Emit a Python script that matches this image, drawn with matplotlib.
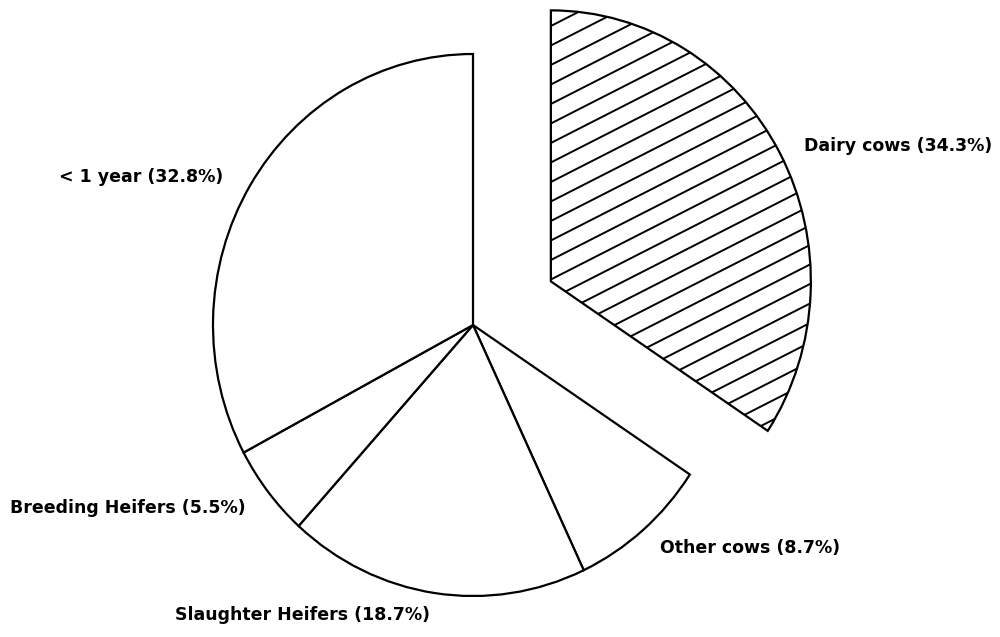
import numpy as np
import matplotlib
matplotlib.use('Agg')
import matplotlib.pyplot as plt

# Cattle population shares, clockwise from 12 o'clock
categories = ['Dairy cows', 'Other cows', 'Slaughter Heifers', 'Breeding Heifers', '< 1 year']
shares = [34.3, 8.7, 18.7, 5.5, 32.8]
explode = [0.34, 0, 0, 0, 0]

# label anchors (data units, pie radius = 1)
label_pos = [(1.273, 0.661), (0.719, -0.823), (-1.146, -1.070), (-1.781, -0.675), (-1.592, 0.546)]

fig = plt.figure(figsize=(10, 6.37), dpi=100)
ax = fig.add_axes([0, 0, 1, 1])

wedges, _ = ax.pie(
    shares,
    explode=explode,
    startangle=90,
    counterclock=False,
    colors=['white'] * len(shares),
    wedgeprops={'edgecolor': 'black', 'linewidth': 1.6},
)

# the original pie is slightly taller than wide
ax.set_xlim(-473 / 260, (1000 - 473) / 260)
ax.set_ylim(-(637 - 325) / 271, 325 / 271)
ax.set_aspect('auto')

# slanted hatch on the exploded slice, drawn as clipped lines
slope = np.tan(np.deg2rad(27)) * 260 / 271
step = 19.5 / 271
x0, y0 = 0.3, 0.384
xs = np.array([-2.0, 2.0])
for k in np.arange(-40, 41):
    ln, = ax.plot(xs, y0 + k * step + slope * (xs - x0), color='black', lw=1.4)
    ln.set_clip_path(wedges[0])

for name, val, (x, y) in zip(categories, shares, label_pos):
    ax.text(x, y, f'{name} ({val}%)', ha='left', va='center',
            fontsize=12.5, fontweight='bold', family='DejaVu Sans', color='black')

ax.axis('off')

fig.savefig('out.png', dpi=100, facecolor='white')
